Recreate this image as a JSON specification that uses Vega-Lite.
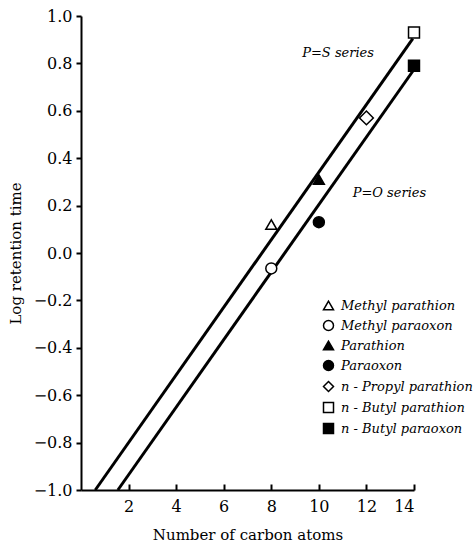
{
  "$schema": "https://vega.github.io/schema/vega-lite/v6.json",
  "width": 333,
  "height": 474,
  "autosize": "none",
  "padding": {"left": 81, "top": 16, "right": 61, "bottom": 52},
  "background": "white",
  "config": {
    "view": {"stroke": null},
    "font": "DejaVu Serif",
    "axis": {
      "grid": false,
      "domainColor": "black",
      "domainWidth": 2,
      "tickColor": "black",
      "tickWidth": 2,
      "labelColor": "black",
      "titleColor": "black",
      "labelFont": "DejaVu Serif",
      "titleFont": "DejaVu Serif",
      "labelFontSize": 16,
      "titleFontSize": 15,
      "titleFontWeight": "normal"
    },
    "legend": {
      "title": null,
      "labelFont": "DejaVu Serif",
      "labelFontStyle": "italic",
      "labelFontSize": 13,
      "labelColor": "black",
      "symbolSize": 100,
      "symbolStrokeWidth": 1.5,
      "symbolStrokeColor": "black",
      "rowPadding": 4,
      "labelOffset": 6,
      "padding": 0
    }
  },
  "datasets": {
    "lines": [
      {"series": "P=S series", "carbons": 0.6, "logrt": -1.0},
      {"series": "P=S series", "carbons": 13.95, "logrt": 0.905},
      {"series": "P=O series", "carbons": 1.55, "logrt": -1.0},
      {"series": "P=O series", "carbons": 13.97, "logrt": 0.77}
    ],
    "points": [
      {"compound": "Methyl parathion", "carbons": 8, "logrt": 0.12},
      {"compound": "Methyl paraoxon", "carbons": 8, "logrt": -0.065},
      {"compound": "Parathion", "carbons": 10, "logrt": 0.31},
      {"compound": "Paraoxon", "carbons": 10, "logrt": 0.13},
      {"compound": "n - Propyl parathion", "carbons": 12, "logrt": 0.57},
      {"compound": "n - Butyl parathion", "carbons": 14, "logrt": 0.93},
      {"compound": "n - Butyl paraoxon", "carbons": 14, "logrt": 0.79}
    ],
    "notes": [
      {"carbons": 9.3, "logrt": 0.844, "label": "P=S series"},
      {"carbons": 11.42, "logrt": 0.253, "label": "P=O series"}
    ]
  },
  "layer": [
    {
      "data": {"name": "lines"},
      "mark": {"type": "line", "color": "black", "strokeWidth": 3},
      "encoding": {
        "x": {
          "field": "carbons", "type": "quantitative",
          "scale": {"domain": [0, 14], "nice": false, "zero": false},
          "axis": {"values": [2, 4, 6, 8, 10, 12, 14], "tickSize": -6, "labelPadding": 14, "title": "Number of carbon atoms", "titlePadding": 13}
        },
        "y": {
          "field": "logrt", "type": "quantitative",
          "scale": {"domain": [-1, 1], "nice": false, "zero": false},
          "axis": {"values": [-1, -0.8, -0.6, -0.4, -0.2, 0, 0.2, 0.4, 0.6, 0.8, 1.0], "format": ".1f", "tickSize": 5, "labelPadding": 4, "title": "Log retention time", "titlePadding": 10}
        },
        "detail": {"field": "series", "type": "nominal"}
      }
    },
    {
      "data": {"name": "points"},
      "mark": {"type": "point", "filled": true, "strokeWidth": 1.5, "opacity": 1, "size": 120},
      "encoding": {
        "x": {"field": "carbons", "type": "quantitative"},
        "y": {"field": "logrt", "type": "quantitative"},
        "shape": {
          "field": "compound", "type": "nominal",
          "scale": {
            "domain": ["Methyl parathion", "Methyl paraoxon", "Parathion", "Paraoxon", "n - Propyl parathion", "n - Butyl parathion", "n - Butyl paraoxon"],
            "range": ["triangle-up", "circle", "triangle-up", "circle", "diamond", "square", "square"]
          },
          "legend": {"orient": "none", "legendX": 241, "legendY": 283}
        },
        "fill": {
          "field": "compound", "type": "nominal",
          "scale": {
            "domain": ["Methyl parathion", "Methyl paraoxon", "Parathion", "Paraoxon", "n - Propyl parathion", "n - Butyl parathion", "n - Butyl paraoxon"],
            "range": ["white", "white", "black", "black", "white", "white", "black"]
          },
          "legend": {"orient": "none", "legendX": 241, "legendY": 283}
        },
        "stroke": {
          "field": "compound", "type": "nominal",
          "scale": {
            "domain": ["Methyl parathion", "Methyl paraoxon", "Parathion", "Paraoxon", "n - Propyl parathion", "n - Butyl parathion", "n - Butyl paraoxon"],
            "range": ["black", "black", "black", "black", "black", "black", "black"]
          },
          "legend": {"orient": "none", "legendX": 241, "legendY": 283}
        }
      }
    },
    {
      "data": {"name": "points"},
      "transform": [{"filter": "datum.compound === 'n - Propyl parathion'"}],
      "mark": {"type": "point", "filled": true, "fill": "white", "stroke": "black", "strokeWidth": 1.5, "opacity": 1, "size": 190, "shape": "diamond"},
      "encoding": {
        "x": {"field": "carbons", "type": "quantitative"},
        "y": {"field": "logrt", "type": "quantitative"}
      }
    },
    {
      "data": {"name": "notes"},
      "mark": {"type": "text", "align": "left", "baseline": "middle", "font": "DejaVu Serif", "fontStyle": "italic", "fontSize": 13, "color": "black"},
      "encoding": {
        "x": {"field": "carbons", "type": "quantitative"},
        "y": {"field": "logrt", "type": "quantitative"},
        "text": {"field": "label", "type": "nominal"}
      }
    }
  ]
}
